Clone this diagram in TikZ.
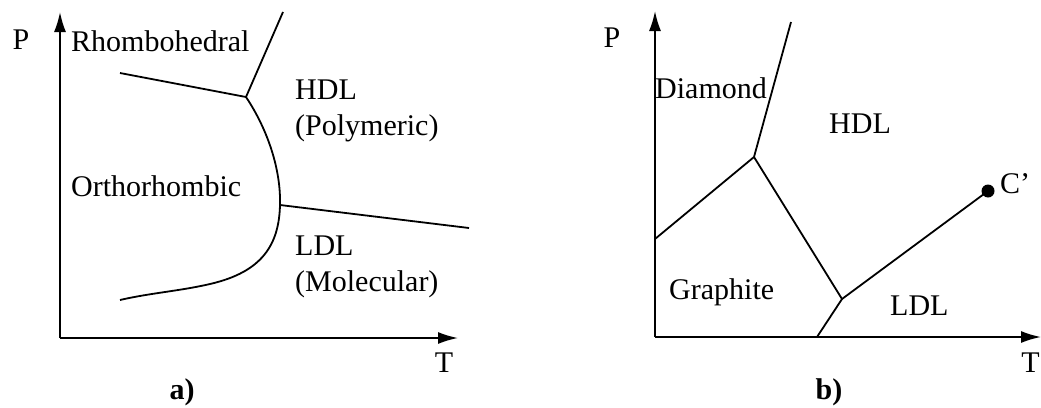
\documentclass[tikz,border=0pt]{standalone}
\usepackage{fontspec}
\setmainfont{Liberation Serif}
\usetikzlibrary{arrows.meta}
\begin{document}
\begin{tikzpicture}[x=1pt,y=-1pt,
  phase/.style={line width=1.8pt,line join=round},
  axis/.style={line width=1.8pt,-{Latex[length=20pt,width=12pt]}},
  lbl/.style={inner sep=0pt,font=\fontsize{30}{35}\selectfont},
  lblL/.style={lbl,anchor=west,align=left}]
\useasboundingbox (0,0) rectangle (1041,407);
% ---------- a) ----------
\coordinate (aO) at (60,338);
\coordinate (aP) at (60,12);
\coordinate (aT) at (458,338);
\draw[axis] (aO) -- (aP);
\draw[axis] (aO) -- (aT);
\node[lbl] (aPl) at (21,40) {P};
\node[lbl] (aTl) at (444,363) {T};
\node[lbl,font=\fontsize{30}{35}\selectfont\bfseries] (acap) at (182,392) {a)};
\coordinate (aJ) at (246,97);
\coordinate (aA) at (120,73);
\coordinate (aB) at (283,12);
\coordinate (aN) at (280,205);
\coordinate (aC) at (120,300);
\coordinate (aD) at (469,228);
\draw[phase] (aA) -- (aJ) -- (aB);
\draw[phase] (aJ) .. controls (268,130) and (281,170) .. (aN)
  .. controls (279,245) and (262,272) .. (210,284)
  .. controls (180,291) and (150,293) .. (aC);
\draw[phase] (aN) -- (aD);
\node[lblL] (rh) at (71,41) {Rhombohedral};
\node[lblL] (or) at (71,186) {Orthorhombic};
\node[lblL] (hdla) at (295,90) {HDL};
\node[lblL] (poly) at (295,128) {(Polymeric)};
\node[lblL] (ldla) at (295,246) {LDL};
\node[lblL] (mol) at (295,284) {(Molecular)};
% ---------- b) ----------
\coordinate (bO) at (655,337);
\coordinate (bP) at (655,11);
\coordinate (bT) at (1041,337);
\draw[axis] (bO) -- (bP);
\draw[axis] (bO) -- (bT);
\node[lbl] (bPl) at (612,38) {P};
\node[lbl,anchor=east] (bTl) at (1040,363) {T};
\node[lbl,font=\fontsize{30}{35}\selectfont\bfseries] (bcap) at (829,392) {b)};
\coordinate (bJ1) at (754,157);
\coordinate (bJ2) at (842,299);
\coordinate (bTop) at (791,22);
\coordinate (bL) at (655,239);
\coordinate (bBot) at (817,337);
\node[circle,fill,inner sep=0pt,minimum size=13pt] (Cp) at (988,191) {};
\draw[phase] (bTop) -- (bJ1) -- (bL);
\draw[phase] (bJ1) -- (bJ2) -- (bBot);
\draw[phase] (bJ2) -- (Cp.center);
\node[lblL] (dia) at (655,88) {Diamond};
\node[lblL] (hdlb) at (829,124) {HDL};
\node[lblL] (gra) at (669,292) {Graphite};
\node[lblL] (ldlb) at (890,306) {LDL};
\node[lblL] (cpl) at (1000,184) {C'};
\end{tikzpicture}
\end{document}
